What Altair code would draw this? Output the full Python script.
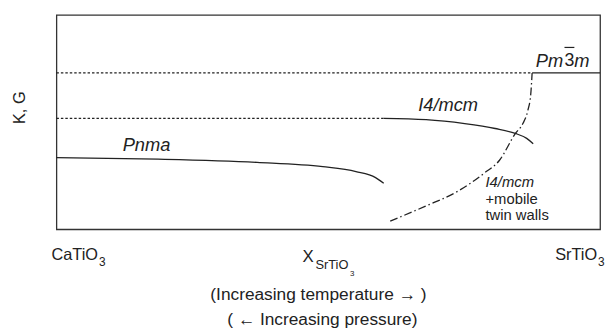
import altair as alt
import pandas as pd

# ---- data (x = composition fraction, y = relative K,G) ----
pnma_x = [0.0, 0.187, 0.369, 0.490, 0.551, 0.587, 0.602]
pnma_y = [0.334, 0.327, 0.312, 0.292, 0.269, 0.241, 0.215]

i4_x = [0.602, 0.680, 0.751, 0.807, 0.844, 0.865, 0.877]
i4_y = [0.5175, 0.5115, 0.493, 0.470, 0.447, 0.424, 0.399]

dd_x = [0.614, 0.678, 0.738, 0.787, 0.815, 0.844, 0.858, 0.867, 0.8725, 0.875]
dd_y = [0.038, 0.107, 0.177, 0.262, 0.322, 0.446, 0.493, 0.553, 0.630, 0.729]

dot_x = [[0.0, 0.875], [0.0, 0.602]]
dot_y = [0.729, 0.5175]
cub_x = [0.875, 1.0]
cub_y = [0.729, 0.729]

W, H = 550, 217
X0, Y0 = 57, 230


def fx(px):
    return (px - X0) / W


def fy(py):
    return (Y0 - py) / H


xs = alt.Scale(domain=[0, 1], nice=False, zero=False)
ys = alt.Scale(domain=[0, 1], nice=False, zero=False)
FONT = "Liberation Sans"
INK = "#222222"


def line_df(xv, yv):
    return pd.DataFrame({"x": xv, "y": yv, "i": list(range(len(xv)))})


def enc(ch):
    return ch.encode(
        x=alt.X("x:Q", scale=xs, axis=None),
        y=alt.Y("y:Q", scale=ys, axis=None),
        order="i:Q",
    )


layers = []
# dotted extensions
for xv, yv in zip(dot_x, dot_y):
    layers.append(enc(alt.Chart(line_df(xv, [yv, yv])).mark_line(
        color=INK, strokeWidth=1.3, strokeDash=[2.5, 2])))
# cubic solid
layers.append(enc(alt.Chart(line_df(cub_x, cub_y)).mark_line(color=INK, strokeWidth=1.3)))
# Pnma curve
layers.append(enc(alt.Chart(line_df(pnma_x, pnma_y)).mark_line(
    color=INK, strokeWidth=1.3, interpolate="monotone")))
# I4/mcm curve
layers.append(enc(alt.Chart(line_df(i4_x, i4_y)).mark_line(
    color=INK, strokeWidth=1.3, interpolate="monotone")))
# dash-dot boundary
layers.append(enc(alt.Chart(line_df(dd_x, dd_y)).mark_line(
    color=INK, strokeWidth=1.3, strokeDash=[8, 3, 1.5, 3], interpolate="monotone")))

# ---- text ----
up_txt = ["CaTiO", "SrTiO", "X", "(Increasing temperature \u2192 )",
          "( \u2190  Increasing pressure)", "+mobile", "twin walls", "3"]
up_px = [99, 604, 306, 322, 326, 491, 491, 571]
up_py = [256, 256, 258, 297, 322, 199, 216, 60]
up_al = ["right", "right", "left", "center", "center", "left", "left", "left"]
up_sz = [16.5, 16.5, 17, 17.5, 17.5, 15, 15, 18]

sub_txt = ["3", "3", "SrTiO", "3"]
sub_px = [100, 605, 319, 354]
sub_py = [263, 263, 266, 275]
sub_sz = [12, 12, 13, 8]

it_txt = ["Pnma", "I4/mcm", "I4/mcm", "Pm", "m"]
it_px = [124, 423, 491, 542, 581]
it_py = [145, 104, 182, 60, 60]
it_sz = [18.5, 18.5, 15, 18.5, 18.5]

bar_px = [571, 581]
bar_py = 46

ylab_txt = ["K, G"]
ylab_px = [20]
ylab_py = [107]


def text_layer(txts, pxs, pys, sizes, aligns=None, style="normal", angle=0):
    df = pd.DataFrame({
        "x": [fx(p) for p in pxs],
        "y": [fy(p) for p in pys],
        "t": txts,
        "s": sizes,
        "a": aligns if aligns else ["left"] * len(txts),
    })
    out = []
    for al in sorted(set(df["a"])):
        sub = df[df["a"] == al]
        out.append(alt.Chart(sub).mark_text(
            font=FONT, fontStyle=style, align=al, baseline="middle",
            color=INK, angle=angle,
        ).encode(
            x=alt.X("x:Q", scale=xs, axis=None),
            y=alt.Y("y:Q", scale=ys, axis=None),
            text="t:N",
            size=alt.Size("s:Q", scale=None, legend=None),
        ))
    return out


layers += text_layer(up_txt, up_px, up_py, up_sz, up_al)
layers += text_layer(sub_txt, sub_px, sub_py, sub_sz)
layers += text_layer(it_txt, it_px, it_py, it_sz, style="italic")
layers += text_layer(ylab_txt, ylab_px, ylab_py, [16.5], ["center"], angle=270)

bar_df = pd.DataFrame({"x": [fx(bar_px[0])], "x2": [fx(bar_px[1])], "y": [fy(bar_py)]})
layers.append(alt.Chart(bar_df).mark_rule(color=INK, strokeWidth=1.2).encode(
    x=alt.X("x:Q", scale=xs, axis=None), x2="x2:Q",
    y=alt.Y("y:Q", scale=ys, axis=None)))

chart = alt.layer(*layers).properties(
    width=W, height=H,
    autosize=alt.AutoSizeParams(type="none"),
    padding={"left": 49, "top": 5, "right": 6, "bottom": 103},
).configure_view(stroke="#333333", strokeWidth=1.3)

chart.save("out.html", embed_options={"renderer": "svg", "actions": False})
